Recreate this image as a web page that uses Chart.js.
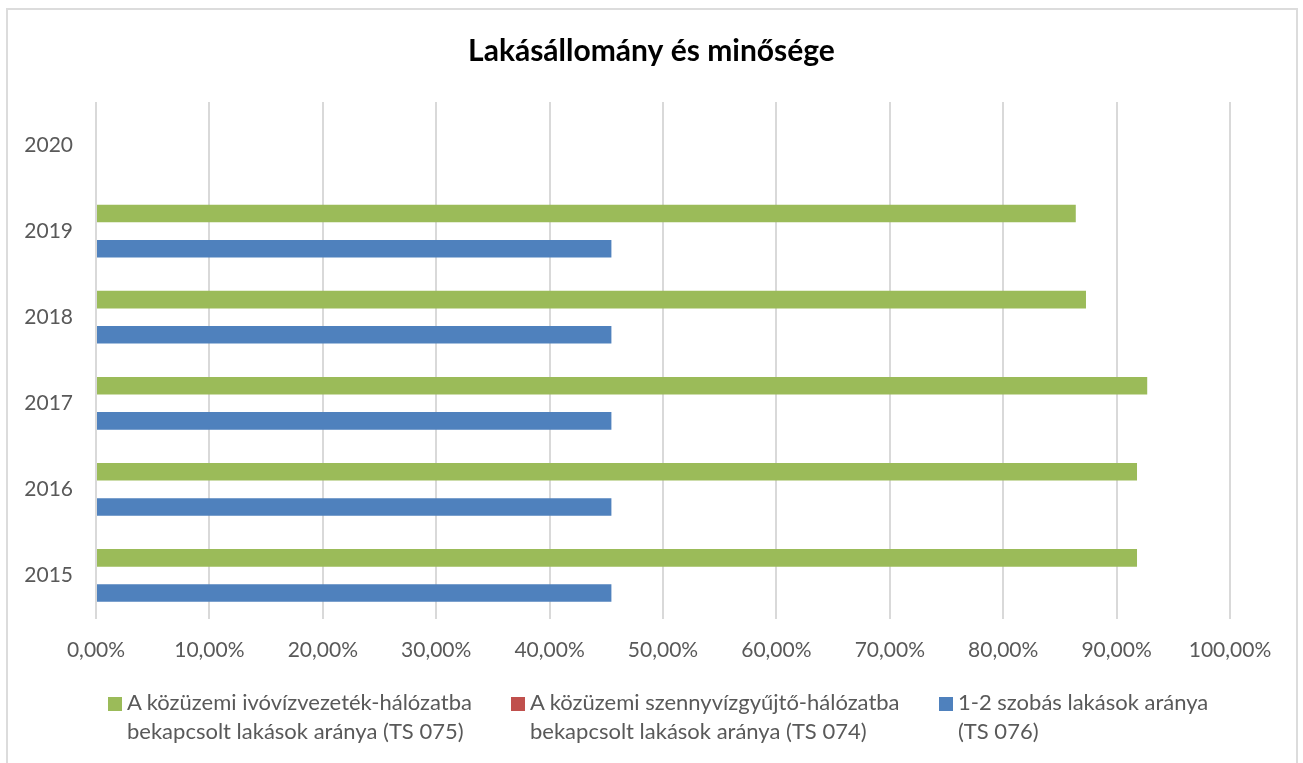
<!DOCTYPE html>
<html lang="hu">
<head>
<meta charset="utf-8">
<title>Lakásállomány és minősége</title>
<script src="https://cdn.jsdelivr.net/npm/chart.js@4/dist/chart.umd.min.js"></script>
<style>
  html, body { margin: 0; padding: 0; background: #fff; width: 1303px; height: 763px; overflow: hidden; }
  #frame { position: absolute; left: 6px; top: 8px; width: 1292px; height: 800px; border: 2px solid #dcdcdc; box-sizing: border-box; }
  #chart { position: absolute; left: 0; top: 0; }
  .lg { position: absolute; font-family: Lato, "Open Sans", sans-serif; font-size: 22px; line-height: 28.8px; color: #595959; white-space: nowrap; }
  .sw { position: absolute; width: 14px; height: 14px; }
</style>
</head>
<body>
<div id="frame"></div>
<canvas id="chart" width="1303" height="763"></canvas>
<div id="legend"></div>
<script>
// ---- data ----
const years = ['2015', '2016', '2017', '2018', '2019', '2020'];
const seriesNames = [
  ['A közüzemi ivóvízvezeték-hálózatba', 'bekapcsolt lakások aránya (TS 075)'],
  ['A közüzemi szennyvízgyűjtő-hálózatba', 'bekapcsolt lakások aránya (TS 074)'],
  ['1-2 szobás lakások aránya', '(TS 076)']
];
const ts075 = [91.8, 91.8, 92.7, 87.3, 86.4, null];
const ts074 = [null, null, null, null, null, null];
const ts076 = [45.45, 45.45, 45.45, 45.45, 45.45, null];
const xTicks = [0, 10, 20, 30, 40, 50, 60, 70, 80, 90, 100];

const colors = ['#9BBB59', '#C0504D', '#4F81BD'];
const seriesData = [ts075, ts074, ts076];

const fmt = v => v.toFixed(2).replace('.', ',') + '%';

// centre the title over the whole canvas (not only the padded area)
const centreTitle = {
  id: 'centreTitle',
  afterLayout(chart) {
    const t = chart.titleBlock;
    if (t) { t.left = 0; t.right = chart.width; t.width = chart.width; }
  }
};

new Chart(document.getElementById('chart'), {
  type: 'bar',
  data: {
    labels: years,
    datasets: seriesData.map((d, i) => ({
      label: seriesNames[i].join(' '),
      data: d,
      backgroundColor: colors[i],
      borderWidth: 0,
      categoryPercentage: 0.6133,
      barPercentage: 1.0
    }))
  },
  plugins: [centreTitle],
  options: {
    indexAxis: 'y',
    responsive: false,
    devicePixelRatio: 1,
    animation: false,
    layout: { padding: { left: 0, right: 73, top: 0, bottom: 0 } },
    plugins: {
      legend: { display: false },
      tooltip: { enabled: false },
      title: {
        display: true,
        text: 'Lakásállomány és minősége',
        color: '#000',
        font: { family: 'Lato, "Open Sans", sans-serif', size: 30, weight: 'bold' },
        padding: { top: 33.5, bottom: 32.5 }
      }
    },
    scales: {
      x: {
        min: 0, max: 100,
        afterBuildTicks: s => { s.ticks = xTicks.map(v => ({ value: v })); },
        afterFit: s => { s.height = 144.5; },
        grid: { color: '#d9d9d9', lineWidth: 2, drawTicks: false },
        border: { display: false },
        ticks: {
          padding: 19,
          color: '#595959',
          font: { family: 'Lato, "Open Sans", sans-serif', size: 21 },
          callback: v => fmt(v)
        }
      },
      y: {
        reverse: true,
        afterFit: s => { s.width = 96; },
        grid: { display: false, drawTicks: false },
        border: { display: false },
        ticks: {
          padding: 23,
          color: '#595959',
          font: { family: 'Lato, "Open Sans", sans-serif', size: 21 }
        }
      }
    }
  }
});

// ---- HTML legend (two-line labels) ----
const legendPos = [
  { sw: 108, tx: 127 },
  { sw: 511, tx: 530 },
  { sw: 939, tx: 958 }
];
const lg = document.getElementById('legend');
seriesNames.forEach((lines, i) => {
  const sw = document.createElement('div');
  sw.className = 'sw';
  sw.style.left = legendPos[i].sw + 'px';
  sw.style.top = '697px';
  sw.style.background = colors[i];
  lg.appendChild(sw);
  const t = document.createElement('div');
  t.className = 'lg';
  t.style.left = legendPos[i].tx + 'px';
  t.style.top = '688px';
  t.innerHTML = lines.map(s => '<div>' + s + '</div>').join('');
  lg.appendChild(t);
});
</script>
</body>
</html>
